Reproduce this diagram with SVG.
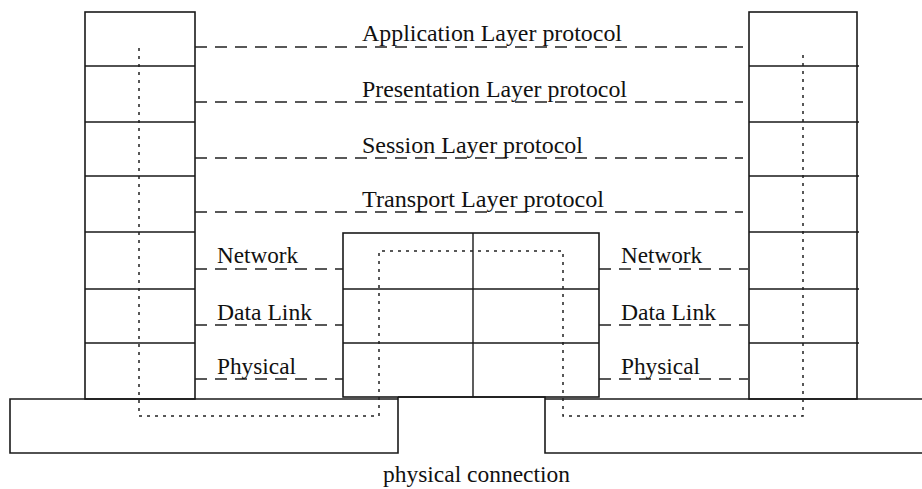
<svg xmlns="http://www.w3.org/2000/svg" width="922" height="489" viewBox="0 0 922 489">
  <style>
    .box { fill: none; stroke: #1a1a1a; stroke-width: 1.6; }
    .row { fill: none; stroke: #1a1a1a; stroke-width: 1.4; }
    .peer { fill: none; stroke: #222; stroke-width: 1.5; stroke-dasharray: 12 8; }
    .path { fill: none; stroke: #222; stroke-width: 1.5; stroke-dasharray: 3 5; }
    .lbl { font-family: "Liberation Serif", "Times New Roman", serif; font-size: 24px; fill: #111; }
  </style>
  <rect width="922" height="489" fill="#fff"/>

  <!-- left end system: seven-layer stack -->
  <g id="host-left">
    <rect class="box" x="85" y="12" width="110" height="387"/>
    <path class="row" d="M85 66H195M85 122H195M85 176H195M85 232H195M85 289H195M85 343H195"/>
  </g>

  <!-- right end system: seven-layer stack -->
  <g id="host-right">
    <rect class="box" x="749" y="12" width="108" height="387"/>
    <path class="row" d="M749 66H859M749 122H859M749 176H859M749 232H859M749 289H859M749 343H859"/>
  </g>

  <!-- intermediate node: lower three layers, two sides -->
  <g id="router">
    <rect class="box" x="343" y="233" width="256" height="164"/>
    <path class="row" d="M343 289H599M343 343H599M473 233V397"/>
  </g>

  <!-- physical medium -->
  <g id="medium">
    <path class="box" d="M398 397V453H10V399H398M398 397H545V453H922M545 399H922"/>
  </g>

  <!-- peer protocols and data path -->
  <g id="connectors">
    <path class="peer" d="M195 47H743M195 102H743M195 158H743M195 212H743"/>
    <path class="peer" d="M195 269H343M195 325H343M195 379H343"/>
    <path class="peer" d="M599 269H748M599 325H748M599 379H748"/>
    <path class="path" d="M139 48V416H379V251H563V416H803V50"/>
  </g>

  <g id="labels">
    <text class="lbl" x="362" y="41" textLength="260" lengthAdjust="spacingAndGlyphs">Application Layer protocol</text>
    <text class="lbl" x="362" y="97" textLength="265" lengthAdjust="spacingAndGlyphs">Presentation Layer protocol</text>
    <text class="lbl" x="362" y="153" textLength="221" lengthAdjust="spacingAndGlyphs">Session Layer protocol</text>
    <text class="lbl" x="362" y="207" textLength="242" lengthAdjust="spacingAndGlyphs">Transport Layer protocol</text>
    <text class="lbl" x="217" y="263" textLength="81" lengthAdjust="spacingAndGlyphs">Network</text>
    <text class="lbl" x="217" y="320" textLength="95" lengthAdjust="spacingAndGlyphs">Data Link</text>
    <text class="lbl" x="217" y="374" textLength="79" lengthAdjust="spacingAndGlyphs">Physical</text>
    <text class="lbl" x="621" y="263" textLength="81" lengthAdjust="spacingAndGlyphs">Network</text>
    <text class="lbl" x="621" y="320" textLength="95" lengthAdjust="spacingAndGlyphs">Data Link</text>
    <text class="lbl" x="621" y="374" textLength="79" lengthAdjust="spacingAndGlyphs">Physical</text>
    <text class="lbl" x="383" y="482" textLength="187" lengthAdjust="spacingAndGlyphs">physical connection</text>
  </g>
</svg>
